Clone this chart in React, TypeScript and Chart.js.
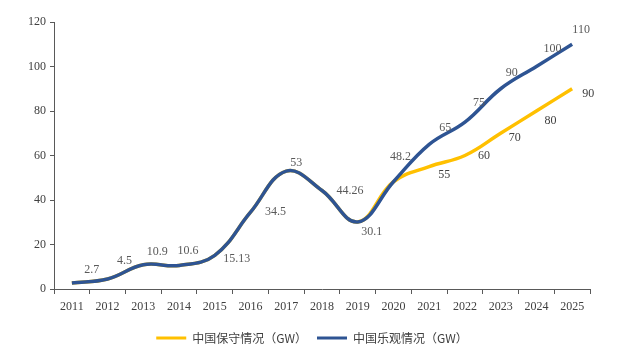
import React, { useEffect, useRef } from "react";
import { Chart, registerables } from "chart.js";

Chart.register(...registerables);

const years = ["2011", "2012", "2013", "2014", "2015", "2016", "2017", "2018", "2019", "2020", "2021", "2022", "2023", "2024", "2025"];
const optimistic = [2.7, 4.5, 10.9, 10.6, 15.13, 34.5, 53, 44.26, 30.1, 48.2, 65, 75, 90, 100, 110];
const conservative = [2.7, 4.5, 10.9, 10.6, 15.13, 34.5, 53, 44.26, 30.1, 48.2, 55, 60, 70, 80, 90];
const optimisticLabels = ["2.7", "4.5", "10.9", "10.6", "15.13", "34.5", "53", "44.26", "30.1", "48.2", "65", "75", "90", "100", "110"];
const conservativeLabels = [null, null, null, null, null, null, null, null, null, null, "55", "60", "70", "80", "90"];
const seriesNames = ["中国保守情况（GW）", "中国乐观情况（GW）"];
const yTicks = [0, 20, 40, 60, 80, 100, 120];

// label placement offsets (px) relative to each point
const optOffsets = [[20, -13], [17, -18], [14, -13], [9, -15], [22, 4], [25, 0], [10, -8], [28, 0], [14, 10], [7, -25], [16, -17], [14, -19], [11, -16], [16, -18], [9, -14]];
const consOffsets = [[0, 0], [0, 0], [0, 0], [0, 0], [0, 0], [0, 0], [0, 0], [0, 0], [0, 0], [0, 0], [15, 8], [19, 0], [14, 5], [14, 10], [16, 5]];
const LEGEND_SHIFT = 17;

const BLUE = "#2E5493";
const YELLOW = "#FFC000";
const SERIF = "'Liberation Serif', 'DejaVu Serif', serif";

const labelPlugin = {
  id: "pointLabels",
  beforeDraw(chart: any) {
    const lg = chart.legend;
    if (lg && !lg._shifted) {
      lg.left += LEGEND_SHIFT;
      lg.right += LEGEND_SHIFT;
      lg._shifted = true;
    }
  },
  afterLayout(chart: any) {
    if (chart.legend) chart.legend._shifted = false;
  },
  afterDatasetsDraw(chart: any) {
    const ctx = chart.ctx;
    ctx.save();
    ctx.font = `12px ${SERIF}`;
    ctx.textAlign = "center";
    ctx.textBaseline = "middle";
    const sets = [
      { idx: 0, labels: conservativeLabels, offs: consOffsets, color: "#404040" },
      { idx: 1, labels: optimisticLabels, offs: optOffsets, color: "#595959" },
    ];
    sets.forEach((s) => {
      const meta = chart.getDatasetMeta(s.idx);
      meta.data.forEach((pt: any, i: number) => {
        const lab = s.labels[i];
        if (!lab) return;
        ctx.fillStyle = s.color;
        ctx.fillText(lab, pt.x + s.offs[i][0], pt.y + s.offs[i][1]);
      });
    });
    ctx.restore();
  },
};

export default function App() {
  const ref = useRef<HTMLCanvasElement>(null);
  useEffect(() => {
    const chart = new Chart(ref.current as HTMLCanvasElement, {
      type: "line",
      data: {
        labels: years,
        datasets: [
          {
            label: seriesNames[0],
            data: conservative,
            borderColor: YELLOW,
            backgroundColor: YELLOW,
            borderWidth: 3.5,
            pointRadius: 0,
            tension: 0.4,
            order: 1,
          },
          {
            label: seriesNames[1],
            data: optimistic,
            borderColor: BLUE,
            backgroundColor: BLUE,
            borderWidth: 3.5,
            pointRadius: 0,
            tension: 0.4,
            order: 0,
          },
        ],
      },
      options: {
        animation: false,
        responsive: true,
        maintainAspectRatio: false,
        layout: { padding: { top: 22, right: 50, left: 0, bottom: 0 } },
        plugins: {
          tooltip: { enabled: false },
          legend: {
            position: "bottom",
            labels: {
              boxWidth: 30,
              boxHeight: 3,
              padding: 10,
              color: "#404040",
              font: { family: "'Noto Sans CJK SC', sans-serif", size: 12 },
              sort: (a: any, b: any) => a.datasetIndex - b.datasetIndex,
              generateLabels: (c: any) =>
                Chart.defaults.plugins.legend.labels.generateLabels(c).map((l: any) => ({
                  ...l,
                  lineWidth: 0,
                  fillStyle: l.strokeStyle,
                })),
            },
          },
        },
        scales: {
          x: {
            type: "category",
            offset: true,
            grid: { offset: true, drawOnChartArea: false, tickLength: 5, color: "#595959" },
            border: { color: "#595959", width: 1 },
            ticks: { color: "#404040", font: { family: SERIF, size: 12 }, padding: 6, maxRotation: 0, autoSkip: false },
            afterFit: (s: any) => { s.height = 33; },
          },
          y: {
            min: 0,
            max: 120,
            afterBuildTicks: (s: any) => { s.ticks = yTicks.map((v) => ({ value: v })); },
            grid: { drawOnChartArea: false, tickLength: 4, color: "#595959" },
            border: { color: "#595959", width: 1 },
            ticks: { color: "#404040", font: { family: SERIF, size: 12 }, padding: 4 },
            afterFit: (s: any) => { s.width = 54; },
          },
        },
      },
      plugins: [labelPlugin],
    } as any);
    return () => chart.destroy();
  }, []);
  return (
    <div style={{ position: "absolute", left: 0, top: 0, width: 640, height: 354, background: "#fff" }}>
      <canvas ref={ref} />
    </div>
  );
}
